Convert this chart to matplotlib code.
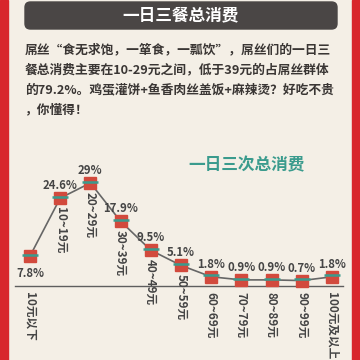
import matplotlib
matplotlib.use('Agg')
import matplotlib.pyplot as plt
from matplotlib.patches import FancyBboxPatch, Rectangle

plt.rcParams['font.family'] = ['Noto Sans CJK SC', 'DejaVu Sans']

categories = ['10元以下', '10~19元', '20~29元', '30~39元', '40~49元', '50~59元',
              '60~69元', '70~79元', '80~89元', '90~99元', '100元及以上']
values = [7.8, 24.6, 29, 17.9, 9.5, 5.1, 1.8, 0.9, 0.9, 0.7, 1.8]
value_labels = ['7.8%', '24.6%', '29%', '17.9%', '9.5%', '5.1%',
                '1.8%', '0.9%', '0.9%', '0.7%', '1.8%']

title = '一日三餐总消费'
body_lines = [
    '屌丝“食无求饱，一箪食，一瓢饮”，屌丝们的一日三',
    '餐总消费主要在10-29元之间，低于39元的占屌丝群体',
    '的79.2%。鸡蛋灌饼+鱼香肉丝盖饭+麻辣烫？好吃不贵',
    '，你懂得！',
]
chart_title = '一日三次总消费'

bg = '#f4efe6'
red = '#d8262c'
dark = '#4a4645'
teal = '#3a9b8d'
marker_red = '#d24a3d'
text_col = '#3a3634'

fig = plt.figure(figsize=(3.6, 3.6), dpi=100)
fig.patch.set_facecolor(bg)

# red side borders
fig.patches.append(Rectangle((0, 0), 8 / 360, 1, transform=fig.transFigure,
                             color=red, zorder=0))
fig.patches.append(Rectangle((352 / 360, 0), 8 / 360, 1, transform=fig.transFigure,
                             color=red, zorder=0))

# title box
fig.patches.append(FancyBboxPatch((25 / 360, 1 - 29 / 360), 312 / 360, 27 / 360,
                                  boxstyle='round,pad=0,rounding_size=0.015',
                                  transform=fig.transFigure, color=dark, zorder=1))
fig.text(181 / 360, 1 - 15.5 / 360, title, color='white', fontsize=12,
         fontweight='bold', ha='center', va='center')

line_y = [50, 70, 89.5, 109.5]
for txt, y in zip(body_lines, line_y):
    fig.text(25 / 360, 1 - y / 360, txt, color=text_col, fontsize=9.2,
             fontweight='bold', ha='left', va='center')

fig.text(188 / 360, 1 - 165 / 360, chart_title, color=teal, fontsize=12,
         fontweight='bold', ha='left', va='center')

# chart axes spanning the figure, scaled so points land in place
ax = fig.add_axes([0, 0, 1, 1])
ax.set_facecolor('none')
ax.set_xlim(-0.993, 10.927)
ax.set_ylim(-22.32, 82.03)
ax.axis('off')

x = list(range(len(values)))
ax.plot([-0.5, 10.37], [-0.87, -0.87], color='#5e5e5e', lw=1.0, zorder=1)
ax.plot(x, values, color='#666666', lw=1.2, zorder=2)
ax.plot(x, values, ls='none', marker='s', ms=8, color=marker_red,
        mec=marker_red, zorder=3)
ax.plot(x, [v + 0.4 for v in values], ls='none', marker='_', ms=11.5, mew=1.8,
        color=teal, zorder=4)

for i, (v, lab, cat) in enumerate(zip(values, value_labels, categories)):
    if i == 0:
        ax.annotate(lab, (i, v), xytext=(0, -12.5), textcoords='offset points',
                    ha='center', va='center', fontsize=8.2, fontweight='bold',
                    color='#454545')
    else:
        ax.annotate(lab, (i, v), xytext=(0, 9), textcoords='offset points',
                    ha='center', va='center', fontsize=8.2, fontweight='bold',
                    color='#454545')
    if i == 0 or v < 3:
        ax.annotate(cat, (i, -0.87), xytext=(0, -4), textcoords='offset points',
                    ha='center', va='top', rotation=270, fontsize=8.4,
                    fontweight='bold', color='#454545')
    else:
        ax.annotate(cat, (i, v), xytext=(0, -6.5), textcoords='offset points',
                    ha='center', va='top', rotation=270, fontsize=8.4,
                    fontweight='bold', color='#454545')

fig.savefig('out.png', dpi=100, facecolor=bg)
